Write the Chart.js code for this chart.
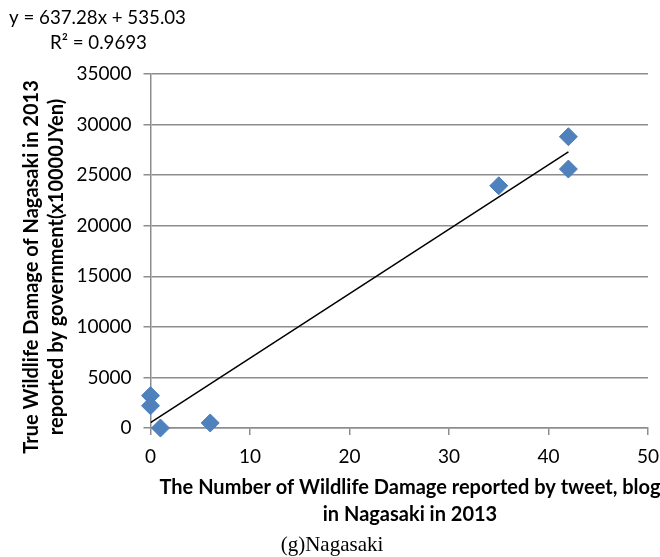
<!DOCTYPE html>
<html>
<head>
<meta charset="utf-8">
<script src="https://cdn.jsdelivr.net/npm/chart.js@4/dist/chart.umd.min.js"></script>
<style>
  body { margin: 0; background: #fff; }
  canvas { display: block; }
</style>
</head>
<body>
<canvas id="scatter-chart" width="660" height="557"></canvas>
<script>
// values
var tweetCounts = [0, 0, 1, 6, 35, 42, 42];
var damageValues = [3200, 2200, 0, 500, 23950, 28800, 25600];

var xTickValues = [0, 10, 20, 30, 40, 50];
var yTickValues = [0, 5000, 10000, 15000, 20000, 25000, 30000, 35000];

// linear trendline as printed on the chart
var trendSlope = 637.28;
var trendIntercept = 535.03;
var trendRange = [0, 42];

var equationLines = ["y = 637.28x + 535.03", "R\u00b2 = 0.9693"];
var xTitleLines = ["The Number of Wildlife Damage reported by tweet, blog", "in Nagasaki in 2013"];
var yTitleLines = ["True Wildlife Damage of Nagasaki in 2013", "reported by government(x10000JYen)"];
var caption = "(g)Nagasaki";

var gridGray = "#8d8d8d";

function toPoints(xs, ys) {
    var pts = [];
    for (var i = 0; i < xs.length; i++) {
        pts.push({x: xs[i], y: ys[i]});
    }
    return pts;
}

var trendPoints = trendRange.map(function (x) {
    return {x: x, y: trendSlope * x + trendIntercept};
});

var textPlugin = {
    id: 'textPlugin',
    afterDraw: function (chart) {
        var ctx = chart.ctx;
        ctx.save();
        ctx.fillStyle = "#000";
        ctx.textBaseline = "middle";

        ctx.font = "18.7px Lato";
        ctx.textAlign = "left";
        ctx.fillText(equationLines[0], 9, 18);
        ctx.fillText(equationLines[1], 50, 43);

        ctx.font = "bold 20px Lato";
        ctx.textAlign = "center";
        xTitleLines.forEach(function (t, i) {
            ctx.fillText(t, 410, 488 + i * 27);
        });

        ctx.save();
        ctx.translate(31.6, 267);
        ctx.rotate(-Math.PI / 2);
        yTitleLines.forEach(function (t, i) {
            ctx.fillText(t, 0, i * 25.4);
        });
        ctx.restore();

        ctx.font = '21px "Liberation Serif"';
        ctx.fillText(caption, 332, 545);
        ctx.restore();
    }
};

Chart.defaults.font.family = "Lato";
Chart.defaults.font.size = 19;
Chart.defaults.color = "#000";

new Chart(document.getElementById("scatter-chart"), {
    type: 'scatter',
    data: {
        datasets: [{
            label: "trend",
            data: trendPoints,
            showLine: true,
            borderColor: "#000",
            borderWidth: 1.5,
            pointRadius: 0,
            order: 2
        }, {
            label: "damage",
            data: toPoints(tweetCounts, damageValues),
            pointStyle: 'rectRot',
            pointRadius: 9,
            pointHoverRadius: 9,
            backgroundColor: "#4f81bd",
            borderColor: "#4a7ebb",
            borderWidth: 1,
            clip: false,
            order: 1
        }]
    },
    options: {
        responsive: false,
        animation: false,
        layout: {
            padding: {top: 74, right: 0, left: 0, bottom: 0}
        },
        plugins: {
            legend: {display: false},
            tooltip: {enabled: false}
        },
        scales: {
            x: {
                type: 'linear',
                min: 0,
                max: 50,
                afterBuildTicks: function (scale) {
                    scale.ticks = xTickValues.map(function (v) { return {value: v}; });
                },
                afterFit: function (scale) {
                    scale.height = 129;
                    scale.paddingLeft = 0;
                    scale.paddingRight = 12;
                },
                grid: {
                    drawOnChartArea: false,
                    drawTicks: true,
                    tickLength: 7,
                    color: gridGray,
                    lineWidth: 1.5
                },
                border: {color: gridGray, width: 1.5},
                ticks: {padding: 10, maxRotation: 0}
            },
            y: {
                type: 'linear',
                min: 0,
                max: 35000,
                afterBuildTicks: function (scale) {
                    scale.ticks = yTickValues.map(function (v) { return {value: v}; });
                },
                afterFit: function (scale) {
                    scale.width = 150.5;
                },
                grid: {
                    tickLength: 7,
                    color: gridGray,
                    lineWidth: 1.5
                },
                border: {color: gridGray, width: 1.5},
                ticks: {
                    padding: 12,
                    callback: function (v) { return String(v); }
                }
            }
        }
    },
    plugins: [textPlugin]
});
</script>
</body>
</html>
